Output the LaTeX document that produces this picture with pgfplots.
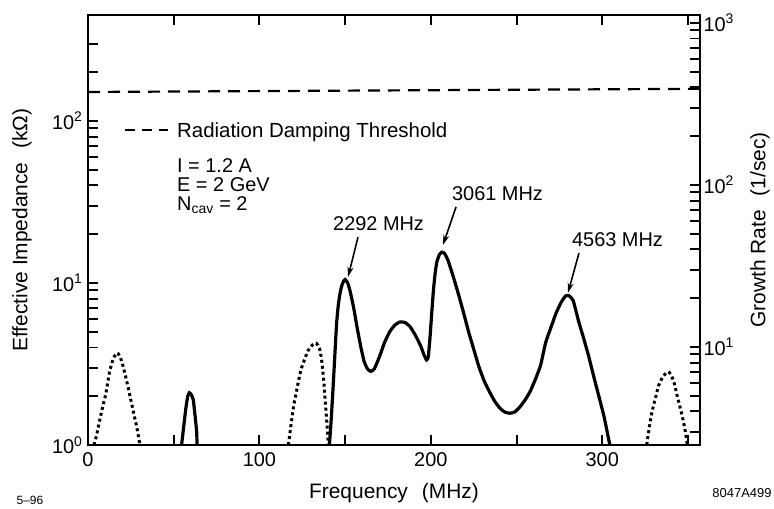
\documentclass[border=0pt]{standalone}
\usepackage{fontspec}
\setmainfont{Liberation Sans}
\usepackage{pgfplots}
\pgfplotsset{compat=1.18}
\usetikzlibrary{arrows.meta}
\pgfplotsset{
 /pgfplots/mycommon/.style={
  at={(88bp,64bp)}, anchor=south west, scale only axis,
  width=612bp, height=430bp,
  xmin=0, xmax=357,
  tick align=inside,
  tick style={black, line width=1.9bp},
  major tick length=10bp, minor tick length=10bp,
  axis line style={line width=2.4bp},
  tick label style={font=\fontsize{20}{24}\selectfont},
  /pgf/number format/assume math mode=true,
 }
}
\begin{document}
\begin{tikzpicture}
\useasboundingbox (0,0) rectangle (774bp,509bp);
\begin{axis}[ymode=log, mycommon,
  ymin=1, ymax=451,
  xtick={0,50,...,350}, xticklabels={0,,100,,200,,300,,},
  xtick pos=both, ytick pos=left,
  ytick={1,10,100},
  yticklabels={10\textsuperscript{0},10\textsuperscript{1},10\textsuperscript{2}},
  minor ytick={2,3,4,5,6,7,8,9,20,30,40,50,60,70,80,90,200,300},
  xticklabel style={yshift=-4bp},
  yticklabel style={xshift=-2bp},
  xlabel={Frequency\hspace{14bp}(MHz)},
  ylabel={Effective Impedance\hspace{14bp}(kΩ)},
  every axis x label/.style={at={(axis description cs:0.5,0)}, yshift=-48bp, anchor=center, font=\fontsize{21}{25}\selectfont},
  every axis y label/.style={at={(axis description cs:0,0.5)}, xshift=-66bp, anchor=center, rotate=90, font=\fontsize{21}{25}\selectfont},
]
% threshold
\addplot[black, line width=2.2bp, dash pattern=on 12bp off 8bp] coordinates {(0,151) (357,158)};
% dotted curves
\addplot[black, line width=3bp, dash pattern=on 3bp off 3bp, smooth, tension=0.4] coordinates {
(3.5,1.0) (5,1.15) (7,1.45) (9,1.8) (10.5,2.1) (12.5,2.8) (14.5,3.35) (16.7,3.7) (18.5,3.55) (20.5,3.05) (22.5,2.5) (24.5,2.0) (26.5,1.6) (28.5,1.28) (30.3,1.0)};
\addplot[black, line width=3bp, dash pattern=on 3bp off 3bp, smooth, tension=0.4] coordinates {
(116.9,1.0) (118.5,1.35) (120,1.75) (122,2.25) (124,2.85) (126,3.3) (128.5,3.85) (131,4.15) (133.2,4.25) (135,3.95) (136.3,3.35) (137.5,2.5) (138.5,1.8) (139.5,1.3) (140.2,1.0)};
\addplot[black, line width=3bp, dash pattern=on 3bp off 3bp, smooth, tension=0.4] coordinates {
(325.9,1.0) (327.5,1.3) (329,1.6) (331,1.95) (333,2.35) (335.5,2.65) (338.5,2.83) (340.5,2.65) (342,2.4) (343.5,2.05) (345.3,1.72) (347,1.45) (348.5,1.2) (349.6,1.0)};
% small solid peak
\addplot[black, line width=3.2bp, smooth, tension=0.3] coordinates {
(54.6,1.0) (56,1.35) (57.2,1.72) (58.2,2.0) (59.1,2.1) (60.2,2.05) (61.4,1.9) (62.5,1.5) (63.4,1.2) (63.6,1.0)};
% main solid curve
\addplot[black, line width=3.2bp, smooth, tension=0.3] coordinates {
(140.8,1.0) (141.8,1.4) (143,2.3) (144,3.6) (145,5.6) (146,7.3) (147,8.6) (148,9.6) (149,10.2) (150,10.5) (151.5,10.0) (153,8.8) (155,7.0) (157,5.3) (159,4.1) (161,3.3) (163,2.95) (165,2.85) (167,2.95) (170,3.5) (173,4.3) (176,5.0) (179,5.5) (182,5.75) (185,5.7) (188,5.35) (191,4.75) (194,4.1) (196,3.6) (197.5,3.35) (198.5,3.5) (199.5,4.6) (200.5,6.5) (201.5,9.0) (202.5,11.5) (203.5,13.5) (205,15.0) (206.5,15.5) (208,15.2) (210,13.8) (213,11.0) (216,8.6) (219,6.6) (222,5.0) (225,3.9) (228,3.05) (231,2.5) (234,2.15) (237,1.88) (240,1.7) (243,1.6) (246,1.57) (249,1.6) (252,1.72) (255,1.9) (258,2.15) (261,2.55) (264,3.1) (267,4.3) (270,5.3) (273,6.5) (276,7.6) (278.5,8.3) (280.5,8.35) (283,7.8) (286,5.9) (289,4.6) (292,3.55) (295,2.65) (296.6,2.28) (298,2.0) (301,1.5) (304,1.05) (304.5,1.0)};
% legend and parameters
\draw[black, line width=2.2bp, dash pattern=on 10bp off 7bp] (axis cs:21.6,88) -- (axis cs:46.7,88);
\node[anchor=base west, inner sep=0pt, font=\fontsize{20.5}{24}\selectfont] at (axis cs:51.9,78.6) {Radiation Damping Threshold};
\node[anchor=base west, inner sep=0pt, font=\fontsize{20}{24}\selectfont] at (axis cs:51.9,48.4) {I = 1.2 A};
\node[anchor=base west, inner sep=0pt, font=\fontsize{20}{24}\selectfont] at (axis cs:51.9,36.5) {E = 2 GeV};
\node[anchor=base west, inner sep=0pt, font=\fontsize{20}{24}\selectfont] at (axis cs:51.9,28.0) {N\textsubscript{cav} = 2};
% peak labels
\node[anchor=base west, inner sep=0pt, font=\fontsize{20}{24}\selectfont] at (axis cs:142.9,21.2) {2292 MHz};
\node[anchor=base west, inner sep=0pt, font=\fontsize{20}{24}\selectfont] at (axis cs:212.3,32.5) {3061 MHz};
\node[anchor=base west, inner sep=0pt, font=\fontsize{20}{24}\selectfont] at (axis cs:282.3,16.8) {4563 MHz};
\draw[black, line width=1.6bp, -{Stealth[length=10bp, width=6bp]}] (axis cs:157.5,19.2) -- (axis cs:151.7,10.9);
\draw[black, line width=1.6bp, -{Stealth[length=10bp, width=6bp]}] (axis cs:214.7,29.5) -- (axis cs:207.1,17.2);
\draw[black, line width=1.6bp, -{Stealth[length=10bp, width=6bp]}] (axis cs:286.4,15.3) -- (axis cs:280,8.7);
\end{axis}
\begin{axis}[ymode=log, mycommon,
  ymin=2.48, ymax=1118,
  hide x axis, ytick pos=right, yticklabel pos=right,
  ytick={10,100,1000},
  yticklabels={10\textsuperscript{1},10\textsuperscript{2},10\textsuperscript{3}},
  minor ytick={3,4,5,6,7,8,9,20,30,40,50,60,70,80,90,200,300,400,500,600,700,800,900},
  ylabel={Growth Rate\hspace{14bp}(1/sec)},
  every axis y label/.style={at={(axis description cs:1,0.5)}, xshift=60bp, anchor=center, rotate=90, font=\fontsize{21}{25}\selectfont},
]
\end{axis}
\node[font=\fontsize{12}{14}\selectfont] at (30bp,9bp) {5–96};
\node[font=\fontsize{13}{15}\selectfont] at (742bp,16bp) {8047A499};
\end{tikzpicture}
\end{document}
